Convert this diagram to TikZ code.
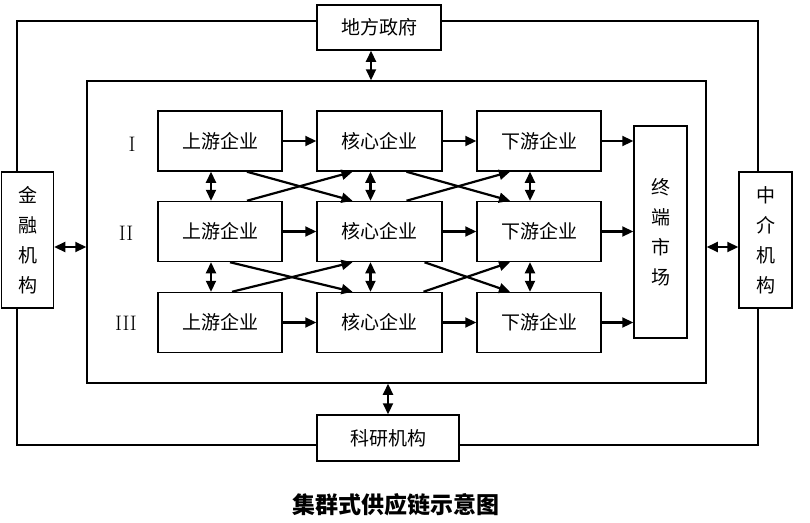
\documentclass[tikz,border=0pt]{standalone}
\usepackage{fontspec}
\newfontfamily\cjk{Noto Sans CJK SC}
\usetikzlibrary{arrows.meta}
\tikzstyle{box}=[draw, line width=1.5pt, inner sep=0pt, font=\cjk\fontsize{19}{30}\selectfont]
\tikzstyle{vbox}=[box, align=center]
\tikzstyle{rowlabel}=[font=\fontsize{21}{21}\selectfont]
\tikzstyle{ring}=[draw=black, line width=1.2pt]
\tikzstyle{arrow}=[draw=black, line width=2.2pt, -{Triangle[length=11pt,width=10pt]}]
\tikzstyle{dblarrow}=[draw=black, line width=2.2pt, {Triangle[length=11pt,width=10pt]}-{Triangle[length=11pt,width=10pt]}]

\begin{document}
\begin{tikzpicture}[x=1pt, y=-1pt]
	\useasboundingbox (0,0) rectangle (810,522);
	\begin{scope}
		\node (df) at (379, 27.5)[box, minimum width=124, minimum height=45] {地方政府};
		\node (ky) at (388, 438)[box, minimum width=142, minimum height=46] {科研机构};
		\node (jr) at (27.5, 240)[vbox, minimum width=52, minimum height=136] {金\\融\\机\\构};
		\node (zj) at (765.5, 240)[vbox, minimum width=53, minimum height=136] {中\\介\\机\\构};
		\node (qun) at (396.5, 232)[box, minimum width=619, minimum height=302] {};
		\node (u1) at (220, 141)[box, minimum width=124, minimum height=60] {上游企业};
		\node (c1) at (379.5, 141)[box, minimum width=125, minimum height=60] {核心企业};
		\node (d1) at (539, 141)[box, minimum width=124, minimum height=60] {下游企业};
		\node (u2) at (220, 231.5)[box, minimum width=124, minimum height=60] {上游企业};
		\node (c2) at (379.5, 231.5)[box, minimum width=125, minimum height=60] {核心企业};
		\node (d2) at (539, 231.5)[box, minimum width=124, minimum height=60] {下游企业};
		\node (u3) at (220, 322.5)[box, minimum width=124, minimum height=60] {上游企业};
		\node (c3) at (379.5, 322.5)[box, minimum width=125, minimum height=60] {核心企业};
		\node (d3) at (539, 322.5)[box, minimum width=124, minimum height=60] {下游企业};
		\node (sc) at (660.5, 232)[vbox, minimum width=53, minimum height=212] {终\\端\\市\\场};
		\node (r1) at (132, 144)[rowlabel] {I};
		\node (r2) at (126, 233)[rowlabel] {II};
		\node (r3) at (126, 323)[rowlabel] {III};
		\node (title) at (396, 505)[font=\cjk\bfseries\fontsize{23}{23}\selectfont] {集群式供应链示意图};
	\end{scope}
	\begin{scope}
		% outer ring
		\path [ring] ([xshift=-10.5pt]jr.north) |- ([yshift=6.5pt]df.west);
		\path [ring] ([yshift=6.5pt]df.east) -| ([xshift=-7.5pt]zj.north);
		\path [ring] ([xshift=-10.5pt]jr.south) |- ([yshift=-7pt]ky.west);
		\path [ring] ([yshift=-7pt]ky.east) -| ([xshift=-7.5pt]zj.south);
	\end{scope}
	\begin{scope}
		\path ([xshift=-8pt]df.south) edge [dblarrow] ([xshift=-8pt]df.south |- qun.north);
		\path (ky.north) edge [dblarrow] (ky.north |- qun.south);
		\path ([yshift=-7pt]jr.east) edge [dblarrow] ([yshift=-7pt]jr.east -| qun.west);
		\path ([yshift=-7pt]zj.west) edge [dblarrow] ([yshift=-7pt]zj.west -| qun.east);
		% rows
		\path (u1) edge [arrow] (c1);
		\path (c1) edge [arrow] (d1);
		\path (d1.east) edge [arrow] (d1.east -| sc.west);
		\path (u2) edge [arrow] (c2);
		\path (c2) edge [arrow] (d2);
		\path (d2.east) edge [arrow] (d2.east -| sc.west);
		\path (u3) edge [arrow] (c3);
		\path (c3) edge [arrow] (d3);
		\path (d3.east) edge [arrow] (d3.east -| sc.west);
		% between rows
		\path ([xshift=-9pt]u1.south) edge [dblarrow] ([xshift=-9pt]u2.north);
		\path ([xshift=-9pt]c1.south) edge [dblarrow] ([xshift=-9pt]c2.north);
		\path ([xshift=-9pt]d1.south) edge [dblarrow] ([xshift=-9pt]d2.north);
		\path ([xshift=-9pt]u2.south) edge [dblarrow] ([xshift=-9pt]u3.north);
		\path ([xshift=-9pt]c2.south) edge [dblarrow] ([xshift=-9pt]c3.north);
		\path ([xshift=-9pt]d2.south) edge [dblarrow] ([xshift=-9pt]d3.north);
		% crossing
		\path ([xshift=27pt]u1.south) edge [arrow] ([xshift=-27pt]c2.north);
		\path ([xshift=27pt]u2.north) edge [arrow] ([xshift=-27pt]c1.south);
		\path ([xshift=27pt]c1.south) edge [arrow] ([xshift=-29pt]d2.north);
		\path ([xshift=27pt]c2.north) edge [arrow] ([xshift=-29pt]d1.south);
		\path ([xshift=10pt]u2.south) edge [arrow] ([xshift=-27pt]c3.north);
		\path ([xshift=12pt]u3.north) edge [arrow] ([xshift=-27pt]c2.south);
		\path ([xshift=45pt]c2.south) edge [arrow] ([xshift=-29pt]d3.north);
		\path ([xshift=44pt]c3.north) edge [arrow] ([xshift=-29pt]d2.south);
	\end{scope}
\end{tikzpicture}
\end{document}
